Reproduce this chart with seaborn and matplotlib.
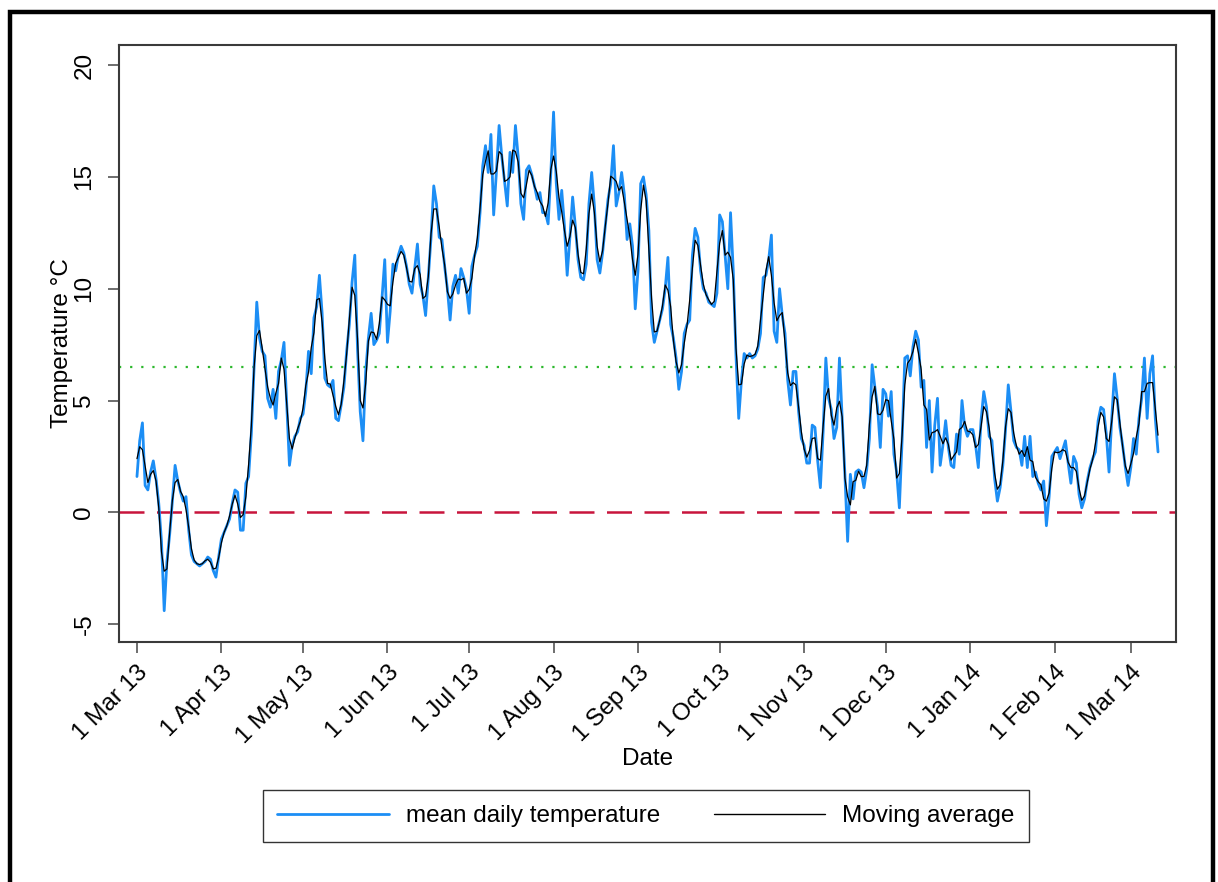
import matplotlib
matplotlib.use("Agg")
import matplotlib.pyplot as plt
import matplotlib.patches as mpatches
import seaborn as sns
import pandas as pd

# mean daily temperature (°C)
mar13 = [1.6, 3.2, 4.0, 1.2, 1.0, 1.8, 2.3, 1.5, 0.4, -1.3, -4.4, -2.2, -1.0, 0.5, 2.1, 1.4,
         0.9, 0.5, 0.7, -0.8, -1.9, -2.2, -2.3, -2.4, -2.3, -2.2, -2.0, -2.1, -2.6, -2.9, -2.0]
apr13 = [-1.2, -0.9, -0.6, -0.3, 0.4, 1.0, 0.9, -0.8, -0.8, 1.3, 1.6, 3.5, 6.5, 9.4, 7.8,
         7.2, 7.0, 5.1, 4.7, 5.5, 4.2, 6.3, 6.8, 7.6, 4.8, 2.1, 3.0, 3.4, 3.6, 4.2]
may13 = [4.4, 5.4, 7.2, 6.2, 8.7, 9.2, 10.6, 8.9, 6.0, 5.7, 5.6, 5.9, 4.2, 4.1, 4.8, 5.6,
         7.2, 8.4, 10.3, 11.5, 7.3, 4.5, 3.2, 6.3, 7.8, 8.9, 7.5, 7.7, 8.0, 9.6, 11.3]
jun13 = [7.6, 9.0, 11.1, 10.8, 11.5, 11.9, 11.6, 11.0, 10.2, 9.8, 10.9, 12.0, 10.2, 9.7, 8.8,
         10.5, 12.3, 14.6, 13.8, 12.3, 12.2, 11.0, 10.0, 8.6, 10.1, 10.6, 9.8, 10.9, 10.5, 10.0]
jul13 = [8.9, 11.0, 11.5, 11.9, 13.4, 15.5, 16.4, 15.2, 16.9, 13.3, 15.2, 17.3, 15.9, 14.8, 13.7,
         16.1, 15.2, 17.3, 15.9, 13.8, 13.1, 15.3, 15.5, 15.1, 14.6, 14.0, 14.3, 13.4, 13.4, 12.9, 15.2]
aug13 = [17.9, 14.7, 13.1, 14.4, 12.8, 10.6, 12.3, 14.1, 12.8, 11.3, 10.5, 10.4, 11.1, 13.8, 15.2,
         13.7, 11.3, 10.7, 11.6, 12.8, 14.0, 14.7, 16.4, 13.7, 14.3, 15.2, 14.2, 12.2, 12.9, 11.9, 9.1]
sep13 = [10.8, 14.7, 15.0, 14.2, 12.6, 8.5, 7.6, 8.1, 8.6, 9.1, 10.0, 11.4, 8.4, 7.8, 6.9,
         5.5, 6.3, 8.0, 8.4, 8.6, 11.5, 12.7, 12.3, 10.8, 10.0, 9.8, 9.4, 9.3, 9.2, 9.8]
oct13 = [13.3, 13.0, 11.5, 10.0, 13.4, 10.8, 7.0, 4.2, 5.9, 7.1, 6.9, 7.1, 6.9, 7.0, 7.3, 8.0,
         10.5, 10.6, 11.3, 12.4, 8.1, 7.6, 10.0, 8.8, 8.0, 5.9, 4.8, 6.3, 6.3, 4.5, 3.3]
nov13 = [3.0, 2.2, 2.2, 3.9, 3.8, 2.3, 1.1, 3.6, 6.9, 5.1, 4.6, 3.3, 3.8, 6.9, 4.2,
         1.7, -1.3, 1.7, 0.6, 1.8, 1.9, 1.8, 1.1, 1.9, 3.3, 6.6, 5.6, 4.7, 2.9, 5.5]
dec13 = [5.3, 4.3, 5.4, 2.6, 1.8, 0.2, 3.2, 6.9, 7.0, 6.1, 7.4, 8.1, 7.7, 5.6, 5.9, 2.9,
         5.0, 1.8, 3.9, 5.1, 2.1, 3.0, 4.1, 2.9, 2.1, 2.0, 3.5, 2.6, 5.0, 3.8, 3.4]
jan14 = [3.7, 3.7, 3.0, 2.0, 4.1, 5.4, 4.7, 3.4, 3.2, 1.5, 0.5, 1.1, 2.1, 3.7, 5.7, 4.5,
         3.2, 2.9, 2.8, 2.1, 3.4, 2.0, 3.4, 1.6, 1.8, 1.3, 1.0, 1.4, -0.6, 0.7, 2.5]
feb14 = [2.7, 2.9, 2.4, 2.8, 3.2, 2.2, 1.3, 2.5, 2.2, 0.8, 0.2, 0.6, 1.4, 2.0,
         2.4, 2.7, 4.1, 4.7, 4.6, 3.5, 1.8, 4.2, 6.2, 5.1, 3.8, 3.0, 2.0, 1.2]
mar14 = [2.0, 3.3, 2.6, 4.2, 5.1, 6.9, 4.2, 6.2, 7.0, 4.2, 2.7]

tick_labels = ["1 Mar 13", "1 Apr 13", "1 May 13", "1 Jun 13", "1 Jul 13", "1 Aug 13", "1 Sep 13",
               "1 Oct 13", "1 Nov 13", "1 Dec 13", "1 Jan 14", "1 Feb 14", "1 Mar 14"]
y_ticks = [-5, 0, 5, 10, 15, 20]
zero_line = 0
mean_line = 6.5

temps = mar13 + apr13 + may13 + jun13 + jul13 + aug13 + sep13 + oct13 + nov13 + dec13 + jan14 + feb14 + mar14
df = pd.DataFrame({"date": pd.date_range("2013-03-01", periods=len(temps), freq="D"),
                   "temp": temps})
df["moving_avg"] = df["temp"].rolling(3, center=True, min_periods=1).mean()
tick_dates = pd.date_range("2013-03-01", "2014-03-01", freq="MS")

sns.set_theme(style="ticks")
plt.rcParams["font.family"] = ["Liberation Sans", "DejaVu Sans"]
plt.rcParams["text.color"] = "black"
plt.rcParams["axes.labelcolor"] = "black"

fig = plt.figure(figsize=(12.18, 8.82), dpi=100)
ax = fig.add_axes([119 / 1218, 1 - 642 / 882, (1176 - 119) / 1218, (642 - 45) / 882])

ax.axhline(zero_line, color="#C8143C", lw=1.8, linestyle=(0, (10, 5)), zorder=1)
ax.axhline(mean_line, color="#2DB82D", lw=1.6, linestyle=(0, (1, 4)), zorder=1)

sns.lineplot(data=df, x="date", y="temp", color="#1C8EF5", linewidth=2.0, ax=ax,
             label="mean daily temperature", zorder=2)
sns.lineplot(data=df, x="date", y="moving_avg", color="black", linewidth=0.9, ax=ax,
             label="Moving average", zorder=3)

start = pd.Timestamp("2013-03-01")
ax.set_xlim(start - pd.Timedelta(days=6.6), start + pd.Timedelta(days=381.6))
ax.set_ylim(-5.8, 20.9)

ax.set_xticks(tick_dates)
ax.set_xticklabels(tick_labels, rotation=45, ha="right", va="top", rotation_mode="anchor")
ax.set_yticks(y_ticks)
ax.set_yticklabels([str(v) for v in y_ticks], rotation=90, va="center")

ax.tick_params(axis="both", length=8, width=1.2, color="#555555", labelsize=17.5,
               labelcolor="black", pad=6)
ax.tick_params(axis="y", pad=9)
for s in ax.spines.values():
    s.set_color("#3a3a3a")
    s.set_linewidth(1.5)

ax.set_xlabel("Date", fontsize=17.5, labelpad=0, color="black")
ax.set_ylabel("Temperature °C", fontsize=17.5, labelpad=0, color="black")

leg = ax.legend(loc="center", bbox_to_anchor=(646 / 1218, 1 - 816 / 882), bbox_transform=fig.transFigure,
                ncol=2, frameon=True, fancybox=False, edgecolor="black", fontsize=17.5,
                handlelength=4.6, handletextpad=0.7, columnspacing=2.2, borderpad=0.6)
leg.get_frame().set_linewidth(1.0)
leg_lines = leg.get_lines()
leg_lines[0].set_linewidth(2.0)
leg_lines[1].set_linewidth(1.0)
for t in leg.get_texts():
    t.set_color("black")

# thick outer frame around the whole graph
fig.add_artist(mpatches.Rectangle((10 / 1218, -0.05), (1213 - 10) / 1218, 1 - 12 / 882 + 0.05,
                                  transform=fig.transFigure, fill=False, edgecolor="black",
                                  linewidth=3.2, clip_on=False))

fig.savefig("out.png", dpi=100)
